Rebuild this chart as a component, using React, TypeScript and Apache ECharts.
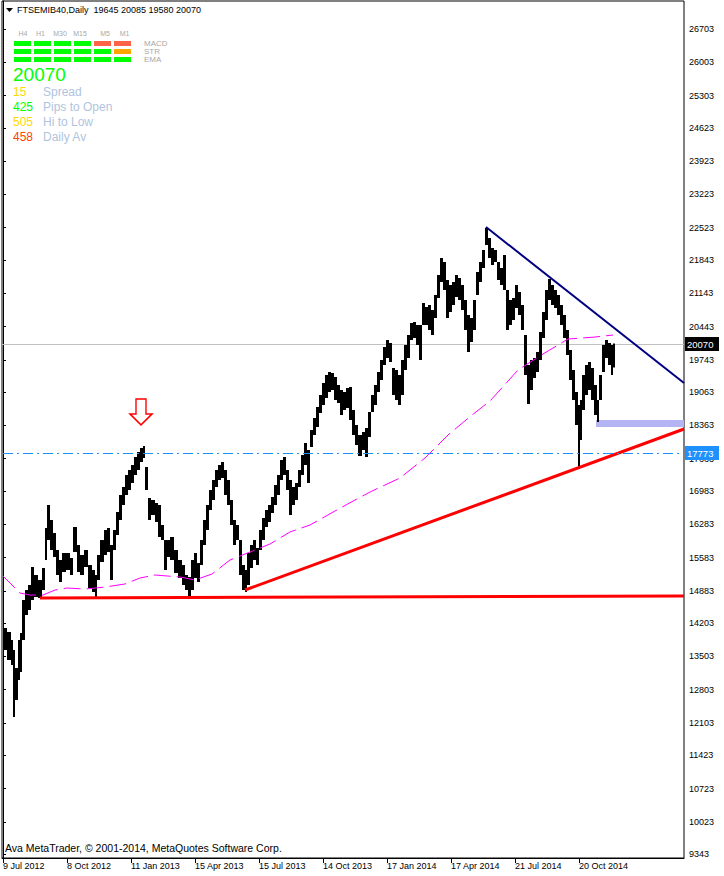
import React, { useEffect, useRef } from 'react';
import * as echarts from 'echarts';

// ---------- data ----------
// price chunks (trading-day index where chunk starts, high, low)
const chunkDay = [0,4,8,10,12,15,17,19,22,25,28,31,35,39,42,44,47,50,53,56,59,63,67,70,74,77,81,85,89,92,94,97,101,104,107,110,113,116,119,122,125,128,131,134,137,140,142,145,148,152,155,158,161,164,167,171,175,179,182,185,188,191,194,197,200,203,206,209,212,215,218,221,224,227,230,233,236,239,242,244,247,250,253,256,259,262,265,268,271,274,277,280,283,286,289,292,295,298,301,304,307,310,313,316,319,322,325,328,331,334,337,340,343,346,349,352,355,359,362,365,368,371,374,377,380,383,386,389,392,395,398,401,404,407,410,413,416,419,422,425,428,431,434,437,440,443,446,449,452,455,458,461,464,467,470,473,476,479,482,485,488,491,494,497,500,503,506,509,512,515,518,521,524,527,530,533,536,539,542,545,548,551,554,557,560,563,566,569,572,575,577,579,582,585,588,591,594,596,599,602,605,608,610];
const chunkHigh = [14100,14016,13847,13637,13258,13847,13995,14689,14899,15005,15383,15215,15110,15362,16204,16688,16372,16099,15741,15531,15678,15678,15573,16225,15846,15636,15741,15425,15320,15215,15636,15951,16162,16204,15846,16162,16541,16898,17067,17319,17424,17529,17698,17803,17887,17929,17487,16835,16793,16730,16688,16267,15951,15951,16015,15741,15531,15425,15215,15173,15531,15678,15467,15951,16372,16688,17003,17214,17424,17529,17593,17424,17214,16793,16372,16267,15951,15425,15320,15678,15846,15951,15783,16162,16414,16583,16688,16856,17109,17319,17635,17698,17424,17214,17067,17151,17424,17740,17992,17845,18266,18518,18750,19002,19255,19423,19486,19465,19381,19213,19107,19065,19149,19171,18687,18371,18161,18224,18308,18645,19002,19213,19486,19739,20012,20159,20096,19570,19528,19423,19739,20054,20265,20517,20538,20475,20475,20938,20854,20896,20791,21106,21527,21885,21801,21422,21317,21380,21527,21464,21317,21001,20685,20622,21001,21590,21801,22053,22516,22305,22095,22053,21801,21674,21948,21211,21001,21043,21317,21169,20896,20265,19633,19739,19781,19907,20328,20749,21211,21443,21317,21211,21106,20896,20685,20370,19949,19528,19065,18792,18897,19423,19633,19697,19570,19213,18897,19423,20054,20159,20096,20054,20085];
const chunkLow = [13637,13427,13321,12227,12585,13006,13174,13847,14373,14479,14689,14752,14731,14899,15531,15951,15741,15594,15215,15068,15278,15320,15215,15699,15278,15215,15383,14941,14857,14752,15110,15489,15636,15699,15110,15741,16057,16372,16688,16898,17003,17151,17319,17424,17593,17677,17003,16372,16477,16330,16015,15951,15320,15594,15531,15257,15152,15005,14899,14731,14899,15152,15068,15425,15846,16162,16583,16793,17067,17214,17256,16898,16688,16267,15846,15951,15215,14899,14857,15005,15362,15531,15425,15741,15951,16225,16330,16519,16688,16898,17214,17319,17003,16477,16688,16793,17067,17319,17529,17151,17908,18161,18329,18623,18792,18939,19065,19107,18897,18834,18581,18687,18729,18476,18161,17950,17719,17845,17698,18119,18645,18792,19065,19318,19633,19781,19697,19002,18897,18792,19002,19528,19781,20159,20201,20054,19739,20475,20475,20370,20265,20622,21043,21380,21211,20622,20749,20896,21064,21001,20791,20370,19907,20117,20370,21106,21380,21674,22158,21885,21737,21801,21422,21317,21211,20370,20475,20580,20833,20685,20370,19423,18813,19107,19360,19486,19739,20201,20580,21001,20896,20833,20685,20475,20201,19844,19318,18897,18371,17445,18055,18687,19002,19107,18897,18581,18434,18897,19486,19781,19633,19423,19580];
const lastDay = 612;

// moving average (magenta dashed)
const maDay = [0,17,27,40,52,64,82,102,122,137,152,177,192,209,227,247,267,287,307,332,352,367,397,422,445,469,487,515,540,565,592,610];
const maValue = [15194,14836,14794,14794,14899,14941,14920,14962,15026,15152,15215,15173,15110,15236,15531,15699,15867,16120,16267,16562,16793,16961,17256,17677,18161,18581,18876,19528,19865,20180,20222,20264];

// trend lines [day, price]
const supportFlat = [[37, 14731], [681, 14773]];
const supportRising = [[242, 14899], [681, 18287]];
const resistance = [[483, 22537], [681, 19255]];
const zoneTop = 18476;
const zoneBottom = 18329;
const zoneStartDay = 593;
const bidPrice = 20070;
const levelPrice = 17773;
const arrowDay = 138;
const arrowPrice = 18645;

// axes
const yTickValues = [26703,26003,25303,24623,23923,23223,22523,21843,21143,20443,19743,19063,18363,17663,16983,16283,15583,14883,14203,13503,12803,12103,11423,10723,10023,9343];
const xTickDays = [0,64,128,192,256,320,384,448,512,576];
const xTickLabels = ['9 Jul 2012','8 Oct 2012','11 Jan 2013','15 Apr 2013','15 Jul 2013','14 Oct 2013','17 Jan 2014','17 Apr 2014','21 Jul 2014','20 Oct 2014'];

// header / info panel
const titleText = 'FTSEMIB40,Daily  19645 20085 19580 20070';
const tfLabels = ['H4','H1','M30','M15','M5','M1'];
const signalNames = ['MACD','STR','EMA'];
const G = '#00ff00', R = '#ff6347', O = '#ffa500';
const signalColors = [[G,G,G,G,R,R],[G,G,G,G,G,O],[G,G,G,G,G,G]];
const priceText = '20070';
const infoValues = ['15','425','505','458'];
const infoNames = ['Spread','Pips to Open','Hi to Low','Daily Av'];
const infoColors = ['#ffd700','#00ff00','#ffd700','#ff4500'];
const copyright = 'Ava MetaTrader, \u00a9 2001-2014, MetaQuotes Software Corp.';

const SANS = "'Liberation Sans', Arial, sans-serif";
const X_MIN = -1;
const X_MAX = 681;

export default function App() {
  const ref = useRef<HTMLDivElement>(null);
  useEffect(() => {
    const chart = echarts.init(ref.current!, null, { renderer: 'svg' });
    const chunks = chunkDay.map((d, i) => [d, i + 1 < chunkDay.length ? chunkDay[i + 1] : lastDay, chunkHigh[i], chunkLow[i]]);
    const tfX = [23, 40.5, 60, 80, 105, 124.5];
    const graphic: any[] = [];
    graphic.push({ type: 'polygon', shape: { points: [[6, 8], [13, 8], [9.5, 12]] }, style: { fill: '#000' } });
    graphic.push({ type: 'text', x: 17, y: 10, style: { text: titleText, font: `9px ${SANS}`, fill: '#000', verticalAlign: 'middle' } });
    tfLabels.forEach((t, i) => graphic.push({ type: 'text', x: tfX[i], y: 33, style: { text: t, font: `7px ${SANS}`, fill: '#a8a8a8', align: 'center', verticalAlign: 'middle' } }));
    signalColors.forEach((row, r) => row.forEach((c, i) => graphic.push({ type: 'rect', shape: { x: 14 + 20 * i, y: 41 + 8 * r, width: 17, height: 5 }, style: { fill: c } })));
    signalNames.forEach((t, r) => graphic.push({ type: 'text', x: 144, y: 43.5 + 8 * r, style: { text: t, font: `8px ${SANS}`, fill: '#a8a8a8', verticalAlign: 'middle' } }));
    graphic.push({ type: 'text', x: 13, y: 74.5, style: { text: priceText, font: `19px ${SANS}`, fill: '#00ff00', verticalAlign: 'middle' } });
    infoValues.forEach((v, i) => {
      graphic.push({ type: 'text', x: 13, y: 92 + 15 * i, style: { text: v, font: `12px ${SANS}`, fill: infoColors[i], verticalAlign: 'middle' } });
      graphic.push({ type: 'text', x: 43, y: 92 + 15 * i, style: { text: infoNames[i], font: `12px ${SANS}`, fill: '#b0c4de', verticalAlign: 'middle' } });
    });
    graphic.push({ type: 'text', x: 5, y: 848, style: { text: copyright, font: `10.5px ${SANS}`, fill: '#000', verticalAlign: 'middle' } });

    // horizontal price level (drawn as filled 1px segments) with a boxed price label right of the plot
    const hLine = (price: number, color: string, dash: number[] | null, labelBg: string, z: number) => ({
      type: 'custom', z, silent: true,
      data: [[X_MIN, X_MAX, price]],
      encode: { x: [0, 1], y: 2 },
      renderItem: (params: any, api: any) => {
        const a = api.coord([api.value(0), api.value(2)]);
        const b = api.coord([api.value(1), api.value(2)]);
        const y = Math.round(a[1]);
        const children: any[] = [];
        if (!dash) {
          children.push({ type: 'rect', shape: { x: a[0], y, width: b[0] - a[0], height: 1 }, style: { fill: color } });
        } else {
          let x = Math.round(a[0]) + 1;
          let k = 0;
          while (x < b[0]) {
            const len = dash[k % dash.length];
            if (k % 2 === 0) children.push({ type: 'rect', shape: { x, y, width: Math.min(len, b[0] - x), height: 1 }, style: { fill: color } });
            x += len;
            k++;
          }
        }
        children.push({ type: 'rect', shape: { x: b[0] + 1, y: y - 7, width: 34, height: 14 }, style: { fill: labelBg } });
        children.push({ type: 'text', x: b[0] + 3, y: y + 0.5, style: { text: String(price), fill: '#fff', font: `9.5px ${SANS}`, verticalAlign: 'middle' } });
        return { type: 'group', children };
      },
    });

    chart.setOption({
      animation: false,
      backgroundColor: '#fff',
      grid: { left: 2, right: 40, top: 1, bottom: 18, show: true, borderColor: '#000', borderWidth: 1, backgroundColor: 'transparent' },
      xAxis: {
        type: 'value', min: X_MIN, max: X_MAX, position: 'bottom',
        axisLine: { show: true, lineStyle: { color: '#000' } },
        splitLine: { show: false },
        axisTick: { show: true, customValues: xTickDays, length: 5, lineStyle: { color: '#000' } },
        axisLabel: {
          customValues: xTickDays, align: 'left', margin: 3, fontSize: 9, fontFamily: SANS, color: '#000',
          formatter: (v: number) => { const i = xTickDays.indexOf(Math.round(v)); return i >= 0 ? xTickLabels[i] : ''; },
        },
      },
      yAxis: {
        type: 'value', position: 'right', min: 9261, max: 27292,
        axisLine: { show: true, lineStyle: { color: '#000' } },
        splitLine: { show: false },
        axisTick: { show: true, customValues: yTickValues, length: 3, lineStyle: { color: '#000' } },
        axisLabel: { customValues: yTickValues, margin: 5, fontSize: 9, fontFamily: SANS, color: '#000', formatter: (v: number) => String(Math.round(v)) },
      },
      graphic,
      series: [
        hLine(bidPrice, '#c0c0c0', null, '#000', 1),
        {
          type: 'line', data: supportFlat, symbol: 'none', z: 3,
          lineStyle: { color: '#ff0000', width: 3 },
        },
        {
          type: 'custom', z: 2,
          data: chunks,
          encode: { x: [0, 1], y: [2, 3] },
          renderItem: (params: any, api: any) => {
            const p1 = api.coord([api.value(0), api.value(2)]);
            const p2 = api.coord([api.value(1), api.value(3)]);
            return { type: 'rect', shape: { x: p1[0], y: p1[1], width: Math.max(1, p2[0] - p1[0]), height: Math.max(1, p2[1] - p1[1]) }, style: { fill: '#000' } };
          },
        },
        hLine(levelPrice, '#1e90ff', [10, 4, 2, 4], '#1e90ff', 5),
        {
          type: 'line', data: maDay.map((d, i) => [d, maValue[i]]), symbol: 'none', z: 3, color: '#ff00ff',
          lineStyle: { color: '#ff00ff', width: 1, type: [17, 6] },
          markArea: {
            silent: true,
            itemStyle: { color: '#b4b4f4', opacity: 1 },
            data: [[{ xAxis: zoneStartDay, yAxis: zoneTop }, { xAxis: X_MAX, yAxis: zoneBottom }]],
          },
          markPoint: {
            silent: true,
            symbol: 'path://M6,0 L16,0 L16,15 L22,15 L11,26 L0,15 L6,15 Z',
            symbolSize: [22, 26],
            itemStyle: { color: '#fff', borderColor: '#ff0000', borderWidth: 1.5 },
            label: { show: false },
            data: [{ coord: [arrowDay, arrowPrice] }],
          },
        },
        {
          type: 'line', data: supportRising, symbol: 'none', z: 4,
          lineStyle: { color: '#ff0000', width: 3 },
        },
        {
          type: 'line', data: resistance, symbol: 'none', z: 4,
          lineStyle: { color: '#000080', width: 2 },
        },
      ],
    });
    return () => chart.dispose();
  }, []);
  return <div ref={ref} style={{ position: 'fixed', left: 0, top: 0, width: 724, height: 876, background: '#fff' }} />;
}
